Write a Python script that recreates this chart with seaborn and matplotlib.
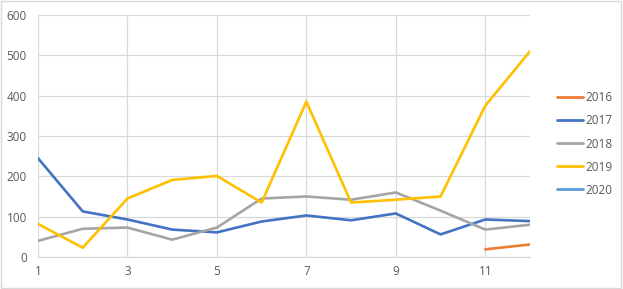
import numpy as np
import pandas as pd
import matplotlib
matplotlib.use("Agg")
import matplotlib.pyplot as plt
from matplotlib.lines import Line2D
from matplotlib.patches import Rectangle
import seaborn as sns

months = list(range(1, 13))
series_names = ["2016", "2017", "2018", "2019", "2020"]
v2016 = [np.nan] * 10 + [19, 31]
v2017 = [245, 113, 93, 68, 61, 88, 103, 91, 108, 56, 93, 89]
v2018 = [40, 70, 73, 43, 73, 145, 150, 142, 160, 115, 68, 80]
v2019 = [82, 23, 145, 191, 201, 135, 385, 135, 142, 150, 375, 510]
v2020 = [np.nan] * 12
colors = ["#ED7D31", "#4472C4", "#A5A5A5", "#FFC000", "#5B9BD5"]
xticks = [1, 3, 5, 7, 9, 11]
yticks = [0, 100, 200, 300, 400, 500, 600]

sns.set_theme(style="white")
plt.rcParams["font.family"] = ["Open Sans", "DejaVu Sans"]

frames = []
for name, vals in zip(series_names, [v2016, v2017, v2018, v2019, v2020]):
    frames.append(pd.DataFrame({"month": months, "value": vals, "series": name}))
df = pd.concat(frames, ignore_index=True)
palette = dict(zip(series_names, colors))

fig = plt.figure(figsize=(6.23, 2.89), dpi=100)
ax = fig.add_axes([38 / 623, 1 - 257 / 289, (530 - 38) / 623, (257 - 15) / 289])

sns.lineplot(data=df.dropna(), x="month", y="value", hue="series",
             hue_order=series_names, palette=palette, linewidth=1.9,
             ax=ax, legend=False)

ax.set_xlim(1, 12)
ax.set_ylim(0, 600)
ax.set_xticks(xticks)
ax.set_yticks(yticks)
ax.set_xlabel("")
ax.set_ylabel("")
ax.grid(True, color="#D9D9D9", linewidth=0.9)
ax.set_axisbelow(True)
for s in ["top", "right", "left"]:
    ax.spines[s].set_visible(False)
ax.spines["bottom"].set_color("#D9D9D9")
ax.spines["bottom"].set_linewidth(0.9)
ax.tick_params(axis="both", length=0, labelsize=8.5, labelcolor="#595959")
ax.tick_params(axis="y", pad=8)
ax.tick_params(axis="x", pad=6)

handles = [Line2D([0], [0], color=c, linewidth=2) for c in colors]
fig.legend(handles, series_names, loc="center left",
           bbox_to_anchor=(546 / 623, 1 - 144 / 289), frameon=False,
           fontsize=8.5, labelcolor="#595959", handlelength=2.2,
           handletextpad=0.25, labelspacing=0.85)

fig.patches.append(Rectangle((0.002, 0.003), 0.995, 0.994, transform=fig.transFigure,
                             fill=False, edgecolor="#D9D9D9", linewidth=1))

fig.savefig("out.png", dpi=100)
